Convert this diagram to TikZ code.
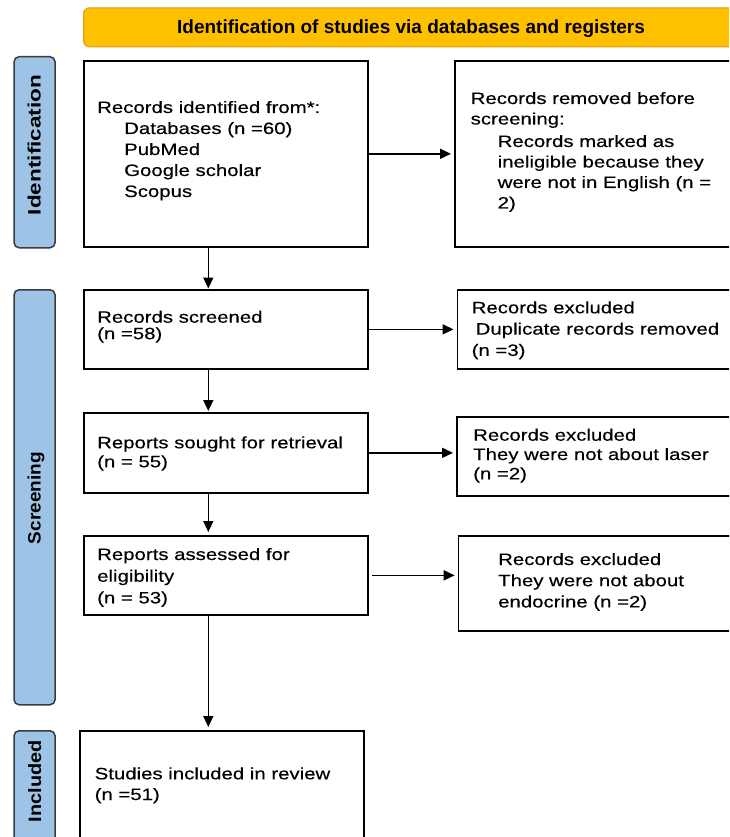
\documentclass[tikz,border=0pt]{standalone}
\usepackage{fontspec}
\setmainfont{Liberation Sans}
\newfontfamily\bodyfont[FakeStretch=1.235,FakeBold=0.35]{Liberation Sans}
\usetikzlibrary{arrows.meta}
\definecolor{hdr}{HTML}{FFC000}
\definecolor{hdrline}{HTML}{D4A017}
\definecolor{side}{HTML}{9DC3E6}
\definecolor{sideline}{HTML}{3A3A3A}
\newcommand\tline[1]{\hbox{#1}}
\newcommand\txtblock[2]{\vtop{\baselineskip=#1pt\relax #2}}
\tikzset{
  box/.style={draw, line width=1.7pt, inner sep=0pt, anchor=north west},
  side/.style={draw=sideline, fill=side, rounded corners=5pt, line width=1.5pt,
    minimum width=41pt, inner sep=0pt, anchor=north west},
  sidelabel/.style={rotate=90, anchor=base, inner sep=0pt},
  txt/.style={inner sep=0pt, anchor=base west,
    font=\bodyfont\fontsize{16.5}{20.5}\selectfont},
  arr/.style={-{Triangle[length=11pt,width=10pt]}, line width=1.5pt, shorten >=3pt}
}
\begin{document}
\begin{tikzpicture}[x=1pt,y=-1pt]
\useasboundingbox (0,0) rectangle (729,837);
\clip (0,0) rectangle (729,837);
% header
\node[draw=hdrline, fill=hdr, rounded corners=6pt, line width=1pt,
  minimum width=680pt, minimum height=39pt, anchor=north west, inner sep=0pt] (hd) at (83,7.3) {};
\node[anchor=base, inner sep=0pt, font=\bfseries\fontsize{19}{23}\selectfont] (ht) at (411,34)
  {Identification of studies via databases and registers};
% side bars
\node[side, minimum height=191pt] (s1) at (13.3,56) {};
\node[side, minimum height=415pt] (s2) at (13.3,289) {};
\node[side, minimum height=140pt] (s3) at (13.3,730) {};
\node[sidelabel] (l1) at (40.5,145) {\resizebox{140pt}{13pt}{\bfseries Identification}};
\node[sidelabel] (l2) at (40.5,498) {\resizebox{92pt}{13pt}{\bfseries Screening}};
\node[sidelabel] (l3) at (41,781) {\resizebox{82pt}{13pt}{\bfseries Included}};
% boxes
\node[box, minimum width=284pt, minimum height=186pt] (b1) at (83,60) {};
\node[box, minimum width=290pt, minimum height=186pt] (b2) at (454,60) {};
\node[box, minimum width=284pt, minimum height=79pt] (b3) at (83,289) {};
\node[box, minimum width=290pt, minimum height=79pt] (b4) at (456.5,289) {};
\node[box, minimum width=284pt, minimum height=80pt] (b5) at (83,412) {};
\node[box, minimum width=290pt, minimum height=79pt] (b6) at (456,416) {};
\node[box, minimum width=284pt, minimum height=79pt] (b7) at (83,535) {};
\node[box, minimum width=290pt, minimum height=95pt] (b8) at (457.7,535) {};
\node[box, minimum width=284pt, minimum height=140pt] (b9) at (79.3,730) {};
% texts
\node[txt] (t1) at (97,113) {\txtblock{21}{%
  \tline{Records identified from*:}%
  \tline{\hspace*{27pt}Databases (n =60)}%
  \tline{\hspace*{27pt}PubMed}%
  \tline{\hspace*{27pt}Google scholar}%
  \tline{\hspace*{27pt}Scopus}}};
\node[txt] (t2) at (470.5,104) {\txtblock{20.5}{%
  \tline{Records removed before}%
  \tline{screening:}\vskip2pt
  \tline{\hspace*{27pt}Records marked as}%
  \tline{\hspace*{27pt}ineligible because they}%
  \tline{\hspace*{27pt}were not in English (n =}%
  \tline{\hspace*{27pt}2)}}};
\node[txt] (t3) at (97,322.7) {\txtblock{16.5}{%
  \tline{Records screened}%
  \tline{(n =58)}}};
\node[txt] (t4) at (471.5,313.3) {\txtblock{21.3}{%
  \tline{Records excluded}%
  \tline{\hspace*{4pt}Duplicate records removed}%
  \tline{(n =3)}}};
\node[txt] (t5) at (97,448.3) {\txtblock{19}{%
  \tline{Reports sought for retrieval}%
  \tline{(n = 55)}}};
\node[txt] (t6) at (473,440.7) {\txtblock{19.3}{%
  \tline{Records excluded}%
  \tline{They were not about laser}%
  \tline{(n =2)}}};
\node[txt] (t7) at (97,560) {\txtblock{21.7}{%
  \tline{Reports assessed for}%
  \tline{eligibility}%
  \tline{(n = 53)}}};
\node[txt] (t8) at (498,565) {\txtblock{21.2}{%
  \tline{Records excluded}%
  \tline{They were not about}%
  \tline{endocrine (n =2)}}};
\node[txt] (t9) at (94.5,779.3) {\txtblock{20.7}{%
  \tline{Studies included in review}%
  \tline{(n =51)}}};
% arrows
\coordinate (ax) at (208.3,0);
\draw[arr, shorten >=0.5pt] (b1.south -| ax) -- (b3.north -| ax);
\draw[arr, shorten >=1pt] (b3.south -| ax) -- (b5.north -| ax);
\draw[arr] (b5.south -| ax) -- (b7.north -| ax);
\draw[arr] (b7.south -| ax) -- (b9.north -| ax);
\draw[arr] (b1.east) -- (b1.east -| b2.west);
\draw[arr] (b3.east) -- (b3.east -| b4.west);
\draw[arr] (b5.east) -- (b5.east -| b6.west);
\draw[arr, shorten <=3.5pt] (b7.east) -- (b7.east -| b8.west);
\end{tikzpicture}
\end{document}
